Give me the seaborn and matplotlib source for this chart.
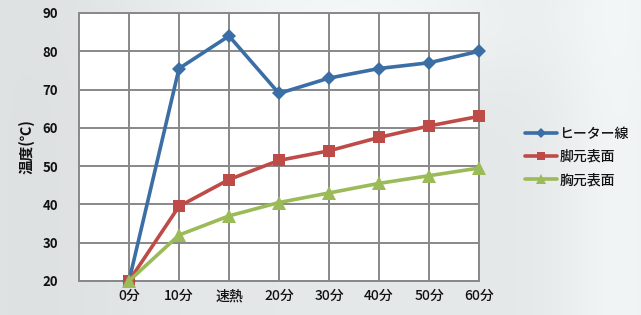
import numpy as np
import pandas as pd
import matplotlib
matplotlib.use("Agg")
import matplotlib.pyplot as plt
import seaborn as sns

categories = ["0分", "10分", "速熱", "20分", "30分", "40分", "50分", "60分"]
heater = [20, 75.5, 84, 69, 73, 75.5, 77, 80]
foot = [20, 39.5, 46.5, 51.5, 54, 57.5, 60.5, 63]
chest = [20, 32, 37, 40.5, 43, 45.5, 47.5, 49.5]
series_names = ["ヒーター線", "脚元表面", "胸元表面"]
y_ticks = [20, 30, 40, 50, 60, 70, 80, 90]

sns.set_theme(style="white")
plt.rcParams['font.family'] = ['Noto Sans CJK JP', 'DejaVu Sans']

rows = []
for name, vals in zip(series_names, [heater, foot, chest]):
    for i, (c, v) in enumerate(zip(categories, vals)):
        rows.append({"pos": i, "cat": c, "value": v, "series": name})
df = pd.DataFrame(rows)

fig = plt.figure(figsize=(6.41, 3.15), dpi=100)

# cloudy grey background
bg = fig.add_axes([0, 0, 1, 1], zorder=-10)
yy, xx = np.mgrid[0:1:200j, 0:1:400j]
shade = 0.91 + 0.06 * np.exp(-((xx - 0.55) ** 2) / 0.08 - ((yy - 0.05) ** 2) / 0.05) \
        + 0.05 * np.exp(-((xx - 0.97) ** 2) / 0.01) - 0.025 * np.exp(-((xx - 0.05) ** 2) / 0.03)
shade = np.clip(shade, 0, 1)
bg.imshow(np.dstack([shade * 0.985, shade, shade]), aspect="auto", extent=[0, 1, 0, 1])
bg.axis("off")

ax = fig.add_axes([79 / 641, 34 / 315, 400 / 641, 268 / 315])
ax.set_facecolor("white")

palette = {"ヒーター線": "#3B6EA5", "脚元表面": "#BE4B48", "胸元表面": "#9BBB59"}
markers = {"ヒーター線": "D", "脚元表面": "s", "胸元表面": "^"}
sizes = {"ヒーター線": 7.5, "脚元表面": 8.5, "胸元表面": 9.5}

for name in series_names:
    sub = df[df.series == name]
    sns.lineplot(data=sub, x="pos", y="value", ax=ax, color=palette[name],
                 marker=markers[name], markersize=sizes[name], markeredgewidth=0,
                 linewidth=2.6, label=name, zorder=3, clip_on=False)

ax.set_xlim(-1, 7)
ax.set_ylim(20, 90)
ax.set_xticks(range(len(categories)))
ax.set_xticklabels(categories)
ax.set_yticks(y_ticks)
ax.set_xlabel("")
ax.set_ylabel("温度(℃)", fontsize=10.5, fontweight="bold", labelpad=6, color="#111111")
ax.grid(True, color="#888888", linewidth=1.4)
ax.set_axisbelow(True)
for s in ax.spines.values():
    s.set_color("#888888")
    s.set_linewidth(1.4)
ax.tick_params(axis="both", length=0, colors="#111111")
ax.tick_params(axis="y", pad=15, labelsize=9.5)
ax.tick_params(axis="x", pad=6, labelsize=10)
for lab in ax.get_yticklabels():
    lab.set_fontweight("bold")
for lab in ax.get_xticklabels():
    lab.set_fontweight("medium")

leg = ax.legend(loc="center left", bbox_to_anchor=(519 / 641, 158 / 315),
                bbox_transform=fig.transFigure, frameon=False, fontsize=10,
                handlelength=2.3, handletextpad=0.2, labelspacing=0.65, borderaxespad=0,
                markerscale=0.7)
for t in leg.get_texts():
    t.set_color("#111111")
    t.set_fontweight("medium")

fig.savefig("out.png", dpi=100)
